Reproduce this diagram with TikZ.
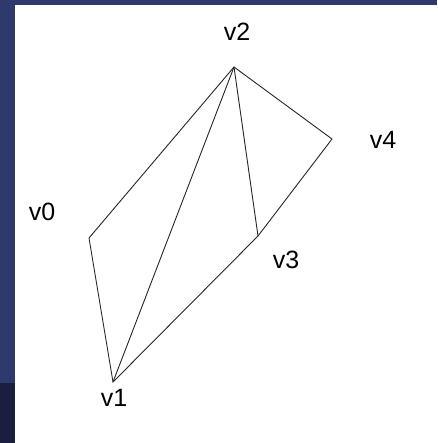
\documentclass[tikz,border=0pt]{standalone}
\usepackage{fontspec}
\setmainfont{Liberation Sans}
\usetikzlibrary{positioning}
\definecolor{slideblue}{RGB}{46,58,110}
\definecolor{slidedark}{RGB}{26,31,64}
\tikzset{
  edge/.style={draw=black!85, line width=0.9pt},
  vlabel/.style={font=\fontsize{25}{28}\selectfont, inner sep=0pt}
}
\begin{document}
\begin{tikzpicture}[x=1pt, y=-1pt]
    % frame: slide background round the white panel
    \useasboundingbox (0,0) rectangle (437,443);
    \fill[slideblue] (0,0) rectangle (437,443);
    \fill[slidedark] (0,383) rectangle (15,443);
    \fill[white] (15,5) rectangle (437,443);

    % vertices of the polygon
    \coordinate (p0) at (89,238);
    \coordinate (p1) at (113,382);
    \coordinate (p2) at (234,67);
    \coordinate (p3) at (258,236);
    \coordinate (p4) at (332,139);

    % outline
    \draw[edge] (p0) -- (p2) -- (p4) -- (p3) -- (p1) -- cycle;
    % diagonals of the fan from v2
    \draw[edge] (p1) -- (p2);
    \draw[edge] (p2) -- (p3);

    % vertex labels
    \node[vlabel] (v0) at (42,212) {v0};
    \node[vlabel] (v1) at (114,398) {v1};
    \node[vlabel] (v2) at (237,32)  {v2};
    \node[vlabel] (v3) at (286,260) {v3};
    \node[vlabel] (v4) at (383,140) {v4};
\end{tikzpicture}
\end{document}
